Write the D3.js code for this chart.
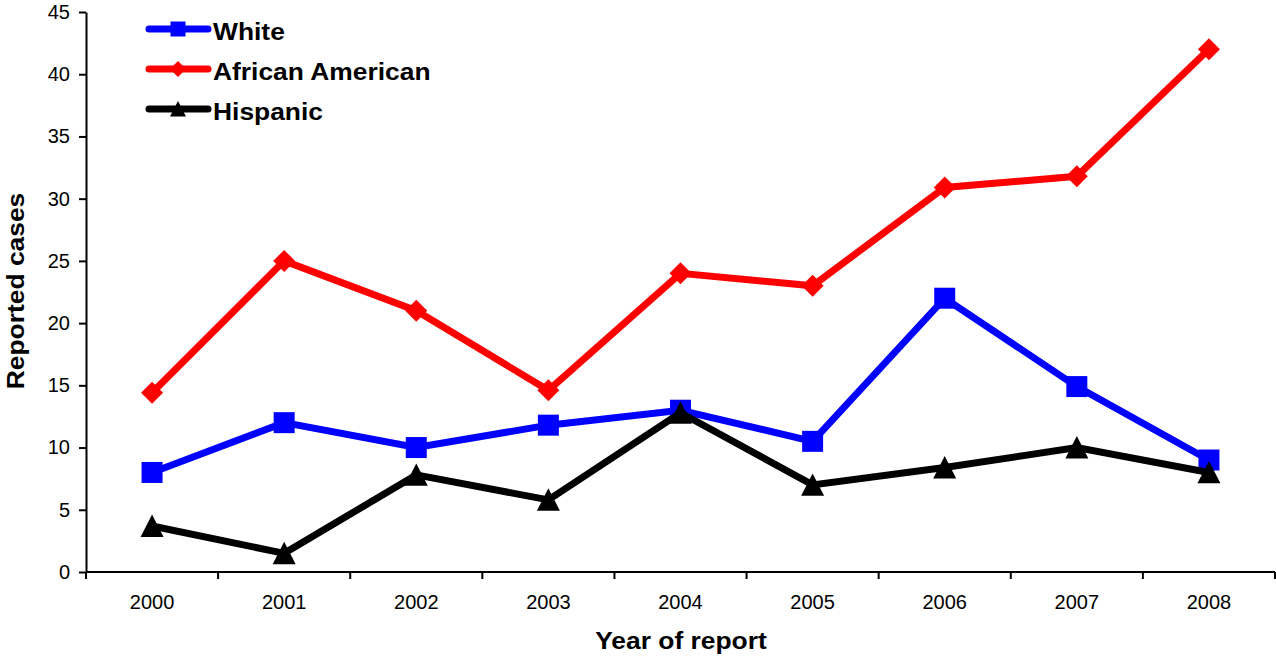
<!DOCTYPE html>
<html>
<head>
<meta charset="utf-8">
<script src="https://cdn.jsdelivr.net/npm/d3@7"></script>
<style>
  html, body { margin: 0; padding: 0; background: #fff; }
  svg { display: block; font-family: "Liberation Sans", Arial, sans-serif; }
</style>
</head>
<body>
<svg id="chart" width="1276" height="658"></svg>
<script>
const years = ["2000","2001","2002","2003","2004","2005","2006","2007","2008"];
const white = [8, 12, 10, 11.8, 13, 10.5, 22, 14.9, 9];
const africanAmerican = [14.4, 25, 21, 14.6, 24, 23, 30.9, 31.8, 42];
const hispanic = [3.7, 1.5, 7.8, 5.8, 12.8, 7, 8.4, 10, 8];
const yTicks = [0, 5, 10, 15, 20, 25, 30, 35, 40, 45];
const seriesNames = ["White", "African American", "Hispanic"];

const series = [
  { name: seriesNames[0], values: white, color: "#0000FF", marker: "square" },
  { name: seriesNames[1], values: africanAmerican, color: "#FF0000", marker: "diamond" },
  { name: seriesNames[2], values: hispanic, color: "#000000", marker: "triangle" }
];

const svg = d3.select("#chart");
const plotLeft = 86, plotRight = 1275, plotTop = 12, plotBottom = 572;

const x = d3.scaleBand().domain(years).range([plotLeft, plotRight]).padding(0);
const y = d3.scaleLinear().domain([0, 45]).range([plotBottom, plotTop]);
const cx = d => x(d) + x.bandwidth() / 2;

// Y axis
const yAxis = svg.append("g")
  .attr("transform", `translate(${plotLeft},0)`)
  .call(d3.axisLeft(y).tickValues(yTicks).tickSize(7).tickSizeOuter(0).tickPadding(9));
yAxis.select(".domain").attr("stroke", "#000").attr("stroke-width", 2);
yAxis.selectAll(".tick line").attr("stroke", "#000").attr("stroke-width", 2);
yAxis.selectAll(".tick text")
  .attr("font-size", 20).attr("fill", "#000")
  .attr("font-family", "Liberation Sans, Arial, sans-serif");

// X axis labels
const xAxis = svg.append("g")
  .attr("transform", `translate(0,${plotBottom})`)
  .call(d3.axisBottom(x).tickSize(0).tickPadding(23));
xAxis.select(".domain").remove();
xAxis.selectAll(".tick text")
  .attr("font-size", 20).attr("fill", "#000")
  .attr("font-family", "Liberation Sans, Arial, sans-serif");

// X axis line and boundary ticks
svg.append("line")
  .attr("x1", plotLeft).attr("x2", plotRight)
  .attr("y1", plotBottom).attr("y2", plotBottom)
  .attr("stroke", "#000").attr("stroke-width", 2);
const bounds = years.map(d => x(d)).concat([x(years[years.length - 1]) + x.bandwidth()]);
svg.append("g").selectAll("line").data(bounds).join("line")
  .attr("x1", d => d).attr("x2", d => d)
  .attr("y1", plotBottom).attr("y2", plotBottom + 7)
  .attr("stroke", "#000").attr("stroke-width", 2);

// Titles
svg.append("text")
  .attr("transform", `translate(681,649) scale(1.1,1)`)
  .attr("text-anchor", "middle")
  .attr("font-size", 24).attr("font-weight", "bold")
  .text("Year of report");
svg.append("text")
  .attr("transform", `translate(24,291) rotate(-90) scale(1.1,1)`)
  .attr("text-anchor", "middle")
  .attr("font-size", 24).attr("font-weight", "bold")
  .text("Reported cases");

function markerPath(type, size) {
  const h = size / 2;
  if (type === "square") return `M${-h},${-h}H${h}V${h}H${-h}Z`;
  if (type === "diamond") return `M0,${-h}L${h},0L0,${h}L${-h},0Z`;
  return `M0,${-h}L${h},${h * 0.95}L${-h},${h * 0.95}Z`;
}
const markerSize = { square: 21, diamond: 22, triangle: 23 };

const line = d3.line().x(d => cx(d.year)).y(d => y(d.value));

series.forEach(s => {
  const pts = years.map((yr, i) => ({ year: yr, value: s.values[i] }));
  const g = svg.append("g");
  g.append("path")
    .datum(pts)
    .attr("d", line)
    .attr("fill", "none")
    .attr("stroke", s.color)
    .attr("stroke-width", 7)
    .attr("stroke-linejoin", "miter");
  g.selectAll("path.m").data(pts).join("path")
    .attr("class", "m")
    .attr("transform", d => `translate(${cx(d.year)},${y(d.value)})`)
    .attr("d", markerPath(s.marker, markerSize[s.marker]))
    .attr("fill", s.color);
});

// Legend
const legendY = [29, 69, 109];
const lg = svg.append("g");
series.forEach((s, i) => {
  const ly = legendY[i];
  lg.append("line")
    .attr("x1", 149).attr("x2", 208)
    .attr("y1", ly).attr("y2", ly)
    .attr("stroke", s.color).attr("stroke-width", 7)
    .attr("stroke-linecap", "round");
  lg.append("path")
    .attr("transform", `translate(178,${ly})`)
    .attr("d", markerPath(s.marker, s.marker === "square" ? 15 : 16))
    .attr("fill", s.color);
  lg.append("text")
    .attr("transform", `translate(213,${ly + 11}) scale(1.1,1)`)
    .attr("font-size", 24).attr("font-weight", "bold")
    .attr("fill", "#000")
    .text(s.name);
});
</script>
</body>
</html>
